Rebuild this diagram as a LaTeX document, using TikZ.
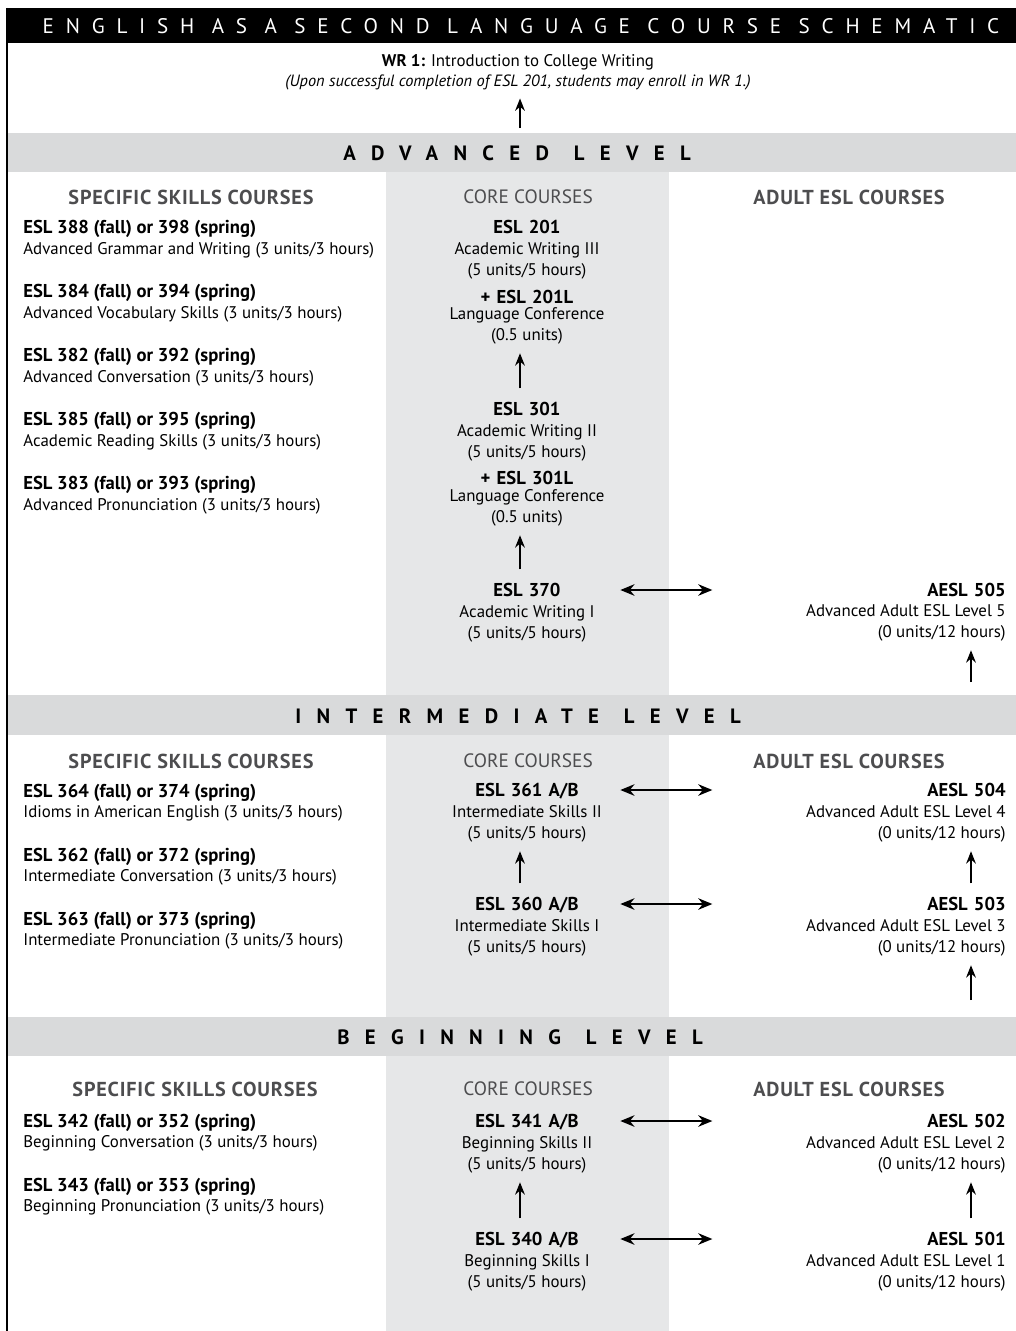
\documentclass[tikz,border=0pt]{standalone}
\usepackage{fontspec}
\setmainfont{PT Sans}
\usetikzlibrary{positioning,arrows.meta}

\definecolor{bargray}{RGB}{217,218,219}
\definecolor{colgray}{RGB}{230,231,232}
\definecolor{headgray}{RGB}{77,77,79}

\newcommand{\bodyfont}{\fontsize{9.6}{11.8}\selectfont}
\newcommand{\crsfont}{\fontsize{10.6}{12}\selectfont\bfseries}

\begin{document}
\begin{tikzpicture}[x=0.02cm, y=-0.02cm,
  every node/.style={inner sep=0pt, font=\bodyfont},
  leveltext/.style={font=\fontsize{11.8}{13}\selectfont\bfseries\addfontfeature{LetterSpace=74}},
  colhead/.style={font=\fontsize{11.5}{13}\selectfont\bfseries\addfontfeature{LetterSpace=4},
                  text=headgray},
  corehead/.style={font=\fontsize{11}{13}\selectfont, text=headgray},
  skilltitle/.style={anchor=west, font=\crsfont, text height=7.2pt, text depth=0pt},
  skilldesc/.style={anchor=west, text height=7pt, text depth=0pt},
  coretitle/.style={font=\crsfont, text width=3.72cm, align=center,
                    text height=7.2pt, text depth=0pt},
  coredesc/.style={anchor=north, align=center},
  adulttitle/.style={anchor=east, font=\crsfont, text width=5.86cm, align=right,
                     text height=7.2pt, text depth=0pt},
  adultdesc/.style={anchor=north east, align=right},
  uparrow/.style={-{Stealth[length=7pt,width=5.5pt]}, line width=1.5pt,
                  shorten <=0.28cm, shorten >=0.17cm},
  linkarrow/.style={{Stealth[length=8pt,width=6.5pt]}-{Stealth[length=8pt,width=6.5pt]},
                    line width=1.5pt}
]
  \useasboundingbox (0,0) rectangle (1016,1331);

  % --- Background: core column, level bars, title bar ---
  \fill[colgray] (386,172) rectangle (669,1331);
  \fill[bargray] (7,133) rectangle (1016,172);
  \fill[bargray] (7,695) rectangle (1016,735);
  \fill[bargray] (7,1017) rectangle (1016,1056);
  \fill[black] (7,8) rectangle (1016,43);
  \draw[line width=0.6pt] (7,8) -- (7,1331);

  % --- Title ---
  \node[font=\fontsize{12}{14}\selectfont\addfontfeature{LetterSpace=56}, text=white]
    (title) at (521,26) {ENGLISH AS A SECOND LANGUAGE COURSE SCHEMATIC};

  % --- WR 1 ---
  \node (wr) at (518,62) {\textbf{WR 1:} Introduction to College Writing};
  \node[font=\fontsize{9.3}{11}\selectfont\itshape] (wrnote) at (518,82)
    {(Upon successful completion of ESL 201, students may enroll in WR 1.)};
  \coordinate (wrfoot) at (520,142);
  \draw[uparrow] (wrfoot) -- (wrfoot |- wrnote.south);

  % --- Level labels ---
  \node[leveltext] (advanced) at (517,153) {ADVANCED\hspace{1.2em}LEVEL};
  \node[leveltext] (intermediate) at (518,716) {INTERMEDIATE\hspace{1.2em}LEVEL};
  \node[leveltext] (beginning) at (520,1037) {BEGINNING\hspace{1.2em}LEVEL};

  % --- Column headers ---
  \node[colhead] (hskA) at (191,197) {SPECIFIC SKILLS COURSES};
  \node[corehead] (hcoA) at (528,197) {CORE COURSES};
  \node[colhead] (hadA) at (849,197) {ADULT ESL COURSES};
  \node[colhead] (hskI) at (191,761) {SPECIFIC SKILLS COURSES};
  \node[corehead] (hcoI) at (528,761) {CORE COURSES};
  \node[colhead] (hadI) at (849,761) {ADULT ESL COURSES};
  \node[colhead] (hskB) at (195,1089) {SPECIFIC SKILLS COURSES};
  \node[corehead] (hcoB) at (528,1089) {CORE COURSES};
  \node[colhead] (hadB) at (849,1089) {ADULT ESL COURSES};

  % --- Advanced: specific skills ---
  \node[skilltitle] (s388) at (23,227) {ESL 388 (fall) or 398 (spring)};
  \node[skilldesc] (s388d) at (23,248) {Advanced Grammar and Writing (3 units/3 hours)};
  \node[skilltitle] (s384) at (23,291) {ESL 384 (fall) or 394 (spring)};
  \node[skilldesc] (s384d) at (23,312) {Advanced Vocabulary Skills (3 units/3 hours)};
  \node[skilltitle] (s382) at (23,355) {ESL 382 (fall) or 392 (spring)};
  \node[skilldesc] (s382d) at (23,376) {Advanced Conversation (3 units/3 hours)};
  \node[skilltitle] (s385) at (23,419) {ESL 385 (fall) or 395 (spring)};
  \node[skilldesc] (s385d) at (23,440) {Academic Reading Skills (3 units/3 hours)};
  \node[skilltitle] (s383) at (23,483) {ESL 383 (fall) or 393 (spring)};
  \node[skilldesc] (s383d) at (23,504) {Advanced Pronunciation (3 units/3 hours)};

  % --- Advanced: core ---
  \node[coretitle] (c201) at (527,227) {ESL 201};
  \node[coredesc] (c201d) at (527,242.6) {Academic Writing III\\(5 units/5 hours)};
  \node[coretitle] (c201l) at (527,297) {+ ESL 201L};
  \node[coredesc] (c201ld) at (527,307.6) {Language Conference\\(0.5 units)};
  \node[coretitle] (c301) at (527,409) {ESL 301};
  \node[coredesc] (c301d) at (527,424.6) {Academic Writing II\\(5 units/5 hours)};
  \node[coretitle] (c301l) at (527,478) {+ ESL 301L};
  \node[coredesc] (c301ld) at (527,489.6) {Language Conference\\(0.5 units)};
  \node[coretitle] (c370) at (527,590) {ESL 370};
  \node[coredesc] (c370d) at (527,605.6) {Academic Writing I\\(5 units/5 hours)};

  % --- Advanced: adult ---
  \node[adulttitle] (a505) at (1006,590) {AESL 505};
  \node[adultdesc] (a505d) at (1006,604.6) {Advanced Adult ESL Level 5\\(0 units/12 hours)};
  \coordinate (a505foot) at (971,696);

  % --- Intermediate: specific skills ---
  \node[skilltitle] (s364) at (23,791) {ESL 364 (fall) or 374 (spring)};
  \node[skilldesc] (s364d) at (23,811) {Idioms in American English (3 units/3 hours)};
  \node[skilltitle] (s362) at (23,855) {ESL 362 (fall) or 372 (spring)};
  \node[skilldesc] (s362d) at (23,875) {Intermediate Conversation (3 units/3 hours)};
  \node[skilltitle] (s363) at (23,919) {ESL 363 (fall) or 373 (spring)};
  \node[skilldesc] (s363d) at (23,939) {Intermediate Pronunciation (3 units/3 hours)};

  % --- Intermediate: core ---
  \node[coretitle] (c361) at (527,790) {ESL 361 A/B};
  \node[coredesc] (c361d) at (527,805.6) {Intermediate Skills II\\(5 units/5 hours)};
  \node[coretitle] (c360) at (527,904) {ESL 360 A/B};
  \node[coredesc] (c360d) at (527,919.6) {Intermediate Skills I\\(5 units/5 hours)};

  % --- Intermediate: adult ---
  \node[adulttitle] (a504) at (1006,790) {AESL 504};
  \node[adultdesc] (a504d) at (1006,805.6) {Advanced Adult ESL Level 4\\(0 units/12 hours)};
  \node[adulttitle] (a503) at (1006,904) {AESL 503};
  \node[adultdesc] (a503d) at (1006,919.6) {Advanced Adult ESL Level 3\\(0 units/12 hours)};
  \coordinate (a503foot) at (971,1014);

  % --- Beginning: specific skills ---
  \node[skilltitle] (s342) at (23,1121) {ESL 342 (fall) or 352 (spring)};
  \node[skilldesc] (s342d) at (23,1141) {Beginning Conversation (3 units/3 hours)};
  \node[skilltitle] (s343) at (23,1185) {ESL 343 (fall) or 353 (spring)};
  \node[skilldesc] (s343d) at (23,1205) {Beginning Pronunciation (3 units/3 hours)};

  % --- Beginning: core ---
  \node[coretitle] (c341) at (527,1121) {ESL 341 A/B};
  \node[coredesc] (c341d) at (527,1136.6) {Beginning Skills II\\(5 units/5 hours)};
  \node[coretitle] (c340) at (527,1239) {ESL 340 A/B};
  \node[coredesc] (c340d) at (527,1254.6) {Beginning Skills I\\(5 units/5 hours)};

  % --- Beginning: adult ---
  \node[adulttitle] (a502) at (1006,1121) {AESL 502};
  \node[adultdesc] (a502d) at (1006,1136.6) {Advanced Adult ESL Level 2\\(0 units/12 hours)};
  \node[adulttitle] (a501) at (1006,1239) {AESL 501};
  \node[adultdesc] (a501d) at (1006,1254.6) {Advanced Adult ESL Level 1\\(0 units/12 hours)};

  % --- Progression arrows ---
  \draw[uparrow] ([xshift=-0.14cm]c301.north) -- ([xshift=-0.14cm]c201ld.south);
  \draw[uparrow] ([xshift=-0.14cm]c370.north) -- ([xshift=-0.14cm]c301ld.south);
  \draw[uparrow] ([xshift=-0.14cm]c360.north) -- ([xshift=-0.14cm]c361d.south);
  \draw[uparrow] ([xshift=-0.14cm]c340.north) -- ([xshift=-0.14cm]c341d.south);
  \draw[uparrow] (a505foot) -- (a505foot |- a505d.south);
  \draw[uparrow] ([xshift=-0.7cm]a503.north east) -- ([xshift=-0.7cm]a504d.south east);
  \draw[uparrow] (a503foot) -- (a503foot |- a503d.south);
  \draw[uparrow] ([xshift=-0.7cm]a501.north east) -- ([xshift=-0.7cm]a502d.south east);

  % --- Equivalence arrows ---
  \draw[linkarrow] (c370) -- (a505);
  \draw[linkarrow] (c361) -- (a504);
  \draw[linkarrow] (c360) -- (a503);
  \draw[linkarrow] (c341) -- (a502);
  \draw[linkarrow] (c340) -- (a501);

\end{tikzpicture}
\end{document}
